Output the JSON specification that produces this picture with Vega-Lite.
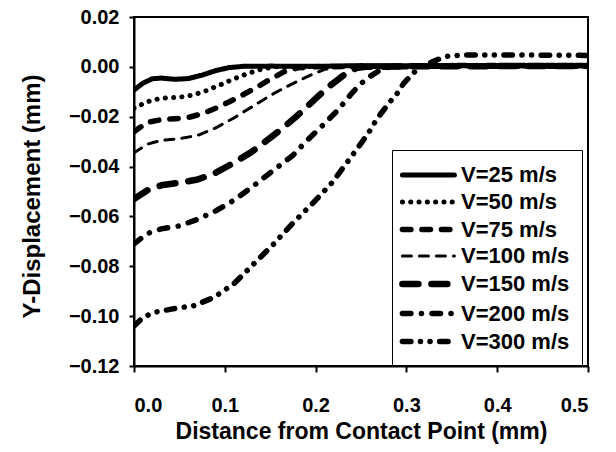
{
  "$schema": "https://vega.github.io/schema/vega-lite/v6.json",
  "autosize": "none",
  "padding": {"left": 134, "top": 17, "right": 28, "bottom": 86},
  "width": 454,
  "height": 349,
  "background": "white",
  "config": {
    "view": {"stroke": "black", "strokeWidth": 2},
    "font": "Liberation Sans",
    "axis": {
      "labelFont": "Liberation Sans", "labelFontWeight": "bold", "labelFontSize": 20, "labelColor": "black",
      "titleFont": "Liberation Sans", "titleFontWeight": "bold", "titleFontSize": 23, "titleColor": "black",
      "domainColor": "black", "domainWidth": 2, "tickColor": "black", "tickWidth": 2, "grid": false
    },
    "legend": {
      "labelFont": "Liberation Sans", "labelFontWeight": "bold", "labelFontSize": 22, "labelColor": "black"
    }
  },
  "data": {"values": [
    {"V": "V=25 m/s", "x": 0, "y": -0.0093},
    {"V": "V=25 m/s", "x": 0.01, "y": -0.0065},
    {"V": "V=25 m/s", "x": 0.02, "y": -0.0048},
    {"V": "V=25 m/s", "x": 0.03, "y": -0.0045},
    {"V": "V=25 m/s", "x": 0.045, "y": -0.005},
    {"V": "V=25 m/s", "x": 0.06, "y": -0.0047},
    {"V": "V=25 m/s", "x": 0.075, "y": -0.0033},
    {"V": "V=25 m/s", "x": 0.09, "y": -0.0015},
    {"V": "V=25 m/s", "x": 0.105, "y": -0.0003},
    {"V": "V=25 m/s", "x": 0.12, "y": 0.0002},
    {"V": "V=25 m/s", "x": 0.15, "y": 0.0003},
    {"V": "V=25 m/s", "x": 0.2, "y": 0.0002},
    {"V": "V=25 m/s", "x": 0.25, "y": 0.0005},
    {"V": "V=25 m/s", "x": 0.3, "y": 0.0004},
    {"V": "V=25 m/s", "x": 0.35, "y": 0.0006},
    {"V": "V=25 m/s", "x": 0.4, "y": 0.0004},
    {"V": "V=25 m/s", "x": 0.45, "y": 0.0005},
    {"V": "V=25 m/s", "x": 0.5, "y": 0.0004},

    {"V": "V=50 m/s", "x": 0, "y": -0.0166},
    {"V": "V=50 m/s", "x": 0.01, "y": -0.0148},
    {"V": "V=50 m/s", "x": 0.02, "y": -0.0133},
    {"V": "V=50 m/s", "x": 0.035, "y": -0.0125},
    {"V": "V=50 m/s", "x": 0.05, "y": -0.0122},
    {"V": "V=50 m/s", "x": 0.065, "y": -0.0113},
    {"V": "V=50 m/s", "x": 0.08, "y": -0.0095},
    {"V": "V=50 m/s", "x": 0.095, "y": -0.0072},
    {"V": "V=50 m/s", "x": 0.11, "y": -0.0048},
    {"V": "V=50 m/s", "x": 0.125, "y": -0.0027},
    {"V": "V=50 m/s", "x": 0.14, "y": -0.001},
    {"V": "V=50 m/s", "x": 0.155, "y": 0},
    {"V": "V=50 m/s", "x": 0.2, "y": 0.0002},
    {"V": "V=50 m/s", "x": 0.3, "y": 0.0003},
    {"V": "V=50 m/s", "x": 0.4, "y": 0.0003},
    {"V": "V=50 m/s", "x": 0.5, "y": 0.0003},

    {"V": "V=75 m/s", "x": 0, "y": -0.026},
    {"V": "V=75 m/s", "x": 0.015, "y": -0.0222},
    {"V": "V=75 m/s", "x": 0.03, "y": -0.0212},
    {"V": "V=75 m/s", "x": 0.045, "y": -0.0208},
    {"V": "V=75 m/s", "x": 0.06, "y": -0.0203},
    {"V": "V=75 m/s", "x": 0.075, "y": -0.0188},
    {"V": "V=75 m/s", "x": 0.09, "y": -0.0166},
    {"V": "V=75 m/s", "x": 0.105, "y": -0.014},
    {"V": "V=75 m/s", "x": 0.12, "y": -0.0112},
    {"V": "V=75 m/s", "x": 0.135, "y": -0.0082},
    {"V": "V=75 m/s", "x": 0.15, "y": -0.005},
    {"V": "V=75 m/s", "x": 0.165, "y": -0.002},
    {"V": "V=75 m/s", "x": 0.18, "y": -0.0004},
    {"V": "V=75 m/s", "x": 0.195, "y": 0},
    {"V": "V=75 m/s", "x": 0.25, "y": 0.0002},
    {"V": "V=75 m/s", "x": 0.3, "y": 0.0003},
    {"V": "V=75 m/s", "x": 0.4, "y": 0.0002},
    {"V": "V=75 m/s", "x": 0.5, "y": 0.0002},

    {"V": "V=100 m/s", "x": 0, "y": -0.0345},
    {"V": "V=100 m/s", "x": 0.015, "y": -0.031},
    {"V": "V=100 m/s", "x": 0.03, "y": -0.0295},
    {"V": "V=100 m/s", "x": 0.05, "y": -0.0288},
    {"V": "V=100 m/s", "x": 0.07, "y": -0.0275},
    {"V": "V=100 m/s", "x": 0.09, "y": -0.0245},
    {"V": "V=100 m/s", "x": 0.11, "y": -0.0205},
    {"V": "V=100 m/s", "x": 0.13, "y": -0.016},
    {"V": "V=100 m/s", "x": 0.15, "y": -0.0115},
    {"V": "V=100 m/s", "x": 0.165, "y": -0.0085},
    {"V": "V=100 m/s", "x": 0.18, "y": -0.0058},
    {"V": "V=100 m/s", "x": 0.195, "y": -0.0032},
    {"V": "V=100 m/s", "x": 0.21, "y": -0.001},
    {"V": "V=100 m/s", "x": 0.225, "y": 0},
    {"V": "V=100 m/s", "x": 0.3, "y": 0.0002},
    {"V": "V=100 m/s", "x": 0.4, "y": 0.0002},
    {"V": "V=100 m/s", "x": 0.5, "y": 0.0002},

    {"V": "V=150 m/s", "x": 0, "y": -0.053},
    {"V": "V=150 m/s", "x": 0.015, "y": -0.0495},
    {"V": "V=150 m/s", "x": 0.03, "y": -0.0475},
    {"V": "V=150 m/s", "x": 0.05, "y": -0.0465},
    {"V": "V=150 m/s", "x": 0.07, "y": -0.0452},
    {"V": "V=150 m/s", "x": 0.09, "y": -0.0425},
    {"V": "V=150 m/s", "x": 0.11, "y": -0.0385},
    {"V": "V=150 m/s", "x": 0.13, "y": -0.034},
    {"V": "V=150 m/s", "x": 0.15, "y": -0.0285},
    {"V": "V=150 m/s", "x": 0.165, "y": -0.0242},
    {"V": "V=150 m/s", "x": 0.18, "y": -0.0195},
    {"V": "V=150 m/s", "x": 0.2, "y": -0.0127},
    {"V": "V=150 m/s", "x": 0.215, "y": -0.0078},
    {"V": "V=150 m/s", "x": 0.225, "y": -0.005},
    {"V": "V=150 m/s", "x": 0.235, "y": -0.0022},
    {"V": "V=150 m/s", "x": 0.245, "y": -0.0005},
    {"V": "V=150 m/s", "x": 0.255, "y": 0},
    {"V": "V=150 m/s", "x": 0.3, "y": 0.0002},
    {"V": "V=150 m/s", "x": 0.4, "y": 0.0003},
    {"V": "V=150 m/s", "x": 0.5, "y": 0.0003},

    {"V": "V=200 m/s", "x": 0, "y": -0.071},
    {"V": "V=200 m/s", "x": 0.015, "y": -0.0668},
    {"V": "V=200 m/s", "x": 0.03, "y": -0.065},
    {"V": "V=200 m/s", "x": 0.05, "y": -0.0638},
    {"V": "V=200 m/s", "x": 0.07, "y": -0.0612},
    {"V": "V=200 m/s", "x": 0.09, "y": -0.0578},
    {"V": "V=200 m/s", "x": 0.11, "y": -0.0535},
    {"V": "V=200 m/s", "x": 0.13, "y": -0.0482},
    {"V": "V=200 m/s", "x": 0.15, "y": -0.0425},
    {"V": "V=200 m/s", "x": 0.175, "y": -0.0355},
    {"V": "V=200 m/s", "x": 0.19, "y": -0.0297},
    {"V": "V=200 m/s", "x": 0.205, "y": -0.0245},
    {"V": "V=200 m/s", "x": 0.225, "y": -0.0172},
    {"V": "V=200 m/s", "x": 0.24, "y": -0.0105},
    {"V": "V=200 m/s", "x": 0.25, "y": -0.0067},
    {"V": "V=200 m/s", "x": 0.26, "y": -0.0038},
    {"V": "V=200 m/s", "x": 0.27, "y": -0.0015},
    {"V": "V=200 m/s", "x": 0.28, "y": -0.0002},
    {"V": "V=200 m/s", "x": 0.29, "y": 0},
    {"V": "V=200 m/s", "x": 0.35, "y": 0.0005},
    {"V": "V=200 m/s", "x": 0.4, "y": 0.0005},
    {"V": "V=200 m/s", "x": 0.5, "y": 0.0005},

    {"V": "V=300 m/s", "x": 0, "y": -0.104},
    {"V": "V=300 m/s", "x": 0.01, "y": -0.1005},
    {"V": "V=300 m/s", "x": 0.022, "y": -0.0985},
    {"V": "V=300 m/s", "x": 0.044, "y": -0.097},
    {"V": "V=300 m/s", "x": 0.066, "y": -0.0958},
    {"V": "V=300 m/s", "x": 0.088, "y": -0.0925},
    {"V": "V=300 m/s", "x": 0.11, "y": -0.087},
    {"V": "V=300 m/s", "x": 0.132, "y": -0.079},
    {"V": "V=300 m/s", "x": 0.154, "y": -0.071},
    {"V": "V=300 m/s", "x": 0.176, "y": -0.0623},
    {"V": "V=300 m/s", "x": 0.198, "y": -0.0543},
    {"V": "V=300 m/s", "x": 0.218, "y": -0.0465},
    {"V": "V=300 m/s", "x": 0.238, "y": -0.0367},
    {"V": "V=300 m/s", "x": 0.258, "y": -0.0267},
    {"V": "V=300 m/s", "x": 0.268, "y": -0.0206},
    {"V": "V=300 m/s", "x": 0.282, "y": -0.014},
    {"V": "V=300 m/s", "x": 0.29, "y": -0.0106},
    {"V": "V=300 m/s", "x": 0.297, "y": -0.0066},
    {"V": "V=300 m/s", "x": 0.308, "y": -0.0024},
    {"V": "V=300 m/s", "x": 0.315, "y": 0},
    {"V": "V=300 m/s", "x": 0.325, "y": 0.0015},
    {"V": "V=300 m/s", "x": 0.335, "y": 0.003},
    {"V": "V=300 m/s", "x": 0.345, "y": 0.0042},
    {"V": "V=300 m/s", "x": 0.36, "y": 0.0047},
    {"V": "V=300 m/s", "x": 0.4, "y": 0.0048},
    {"V": "V=300 m/s", "x": 0.45, "y": 0.0047},
    {"V": "V=300 m/s", "x": 0.5, "y": 0.0046}
  ]},
  "mark": {"type": "line", "color": "black", "strokeCap": "round", "strokeJoin": "round", "clip": true},
  "encoding": {
    "x": {
      "field": "x", "type": "quantitative",
      "scale": {"domain": [0, 0.5], "nice": false, "zero": false},
      "axis": {"title": "Distance from Contact Point (mm)", "values": [0, 0.1, 0.2, 0.3, 0.4, 0.5], "format": ".1f",
               "tickSize": 6, "labelPadding": 23, "titleY": 54, "titleBaseline": "top"}
    },
    "y": {
      "field": "y", "type": "quantitative",
      "scale": {"domain": [-0.12, 0.02], "nice": false, "zero": false},
      "axis": {"title": "Y-Displacement (mm)", "values": [-0.12, -0.1, -0.08, -0.06, -0.04, -0.02, 0, 0.02], "format": ".2f",
               "tickSize": 5, "labelPadding": 10, "titleX": -102, "titleY": 179, "titleBaseline": "middle", "titleFontSize": 24}
    },
    "detail": {"field": "V"},
    "strokeDash": {
      "field": "V", "type": "nominal",
      "scale": {
        "type": "ordinal",
        "domain": ["V=25 m/s", "V=50 m/s", "V=75 m/s", "V=100 m/s", "V=150 m/s", "V=200 m/s", "V=300 m/s"],
        "range": [[1, 0], [0.1, 8.2], [8.5, 11], [9, 8], [16, 13], [8.5, 10.5, 0.1, 10.5], [8.5, 9.5, 0.1, 9.5, 0.1, 9.5]]
      },
      "legend": {
        "title": null, "orient": "none", "legendX": 258, "legendY": 133,
        "strokeColor": "black", "fillColor": "white", "padding": 12, "rowPadding": 3,
        "symbolType": "M-1.5,0H3.5", "symbolSize": 433, "labelOffset": 29, "symbolStrokeColor": "black",
        "encode": {"symbols": {"update": {"strokeCap": {"value": "round"}, "strokeWidth": {"scale": "strokeWidth", "field": "value"}}}}
      }
    },
    "strokeWidth": {
      "field": "V", "type": "nominal",
      "scale": {
        "type": "ordinal",
        "domain": ["V=25 m/s", "V=50 m/s", "V=75 m/s", "V=100 m/s", "V=150 m/s", "V=200 m/s", "V=300 m/s"],
        "range": [5, 5, 5.5, 3, 6.5, 5.5, 5.5]
      },
      "legend": {
        "title": null, "orient": "none", "legendX": 258, "legendY": 133,
        "strokeColor": "black", "fillColor": "white", "padding": 12, "rowPadding": 3,
        "symbolType": "M-1.5,0H3.5", "symbolSize": 433, "labelOffset": 29, "symbolStrokeColor": "black",
        "encode": {"symbols": {"update": {"strokeCap": {"value": "round"}, "strokeWidth": {"scale": "strokeWidth", "field": "value"}}}}
      }
    }
  }
}
